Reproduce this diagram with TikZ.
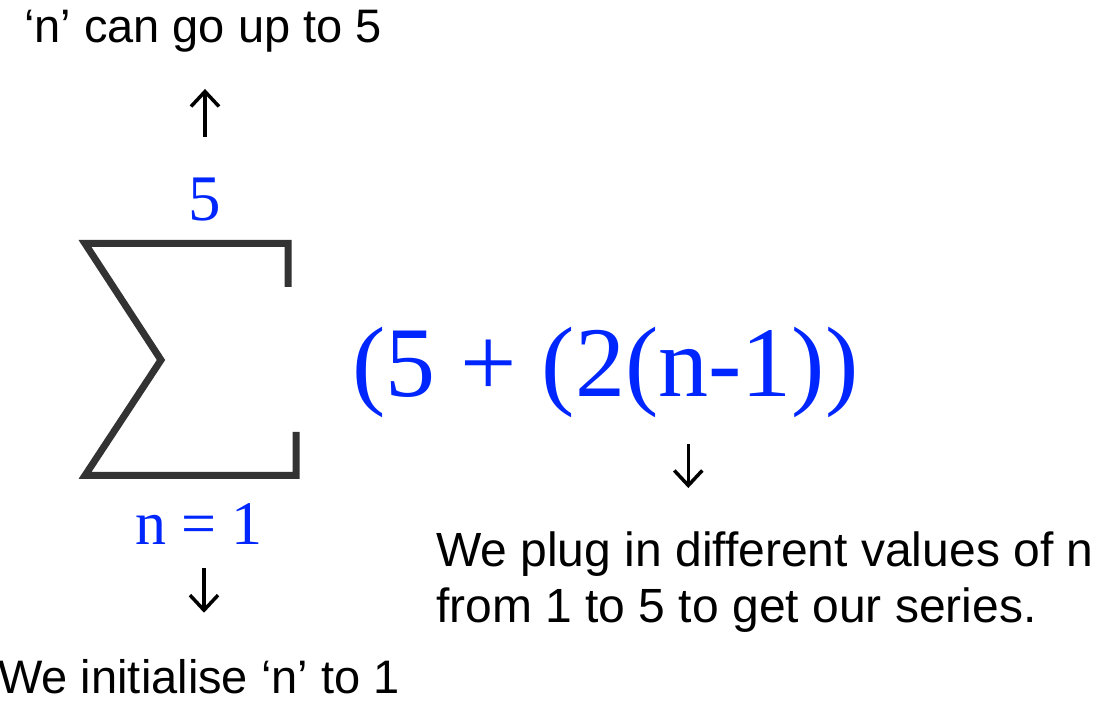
\documentclass[tikz,border=0pt]{standalone}
\usepackage{fontspec}
\setmainfont{Liberation Sans}
\newfontfamily\serieserif{Liberation Serif}
\usepackage{xcolor}
\usetikzlibrary{arrows.meta}
\definecolor{SeriesBlue}{HTML}{0026FF}
\definecolor{SeriesDark}{HTML}{333333}
\tikzset{
  notetext/.style={inner sep=0pt,font=\fontsize{47}{57}\selectfont,text=black},
  bluetext/.style={inner sep=0pt,text=SeriesBlue},
  pointarrow/.style={-{Straight Barb[length=15pt,width=28pt]},line width=3.5pt,draw=black},
  sigmaline/.style={line width=7pt,draw=SeriesDark}
}

\begin{document}
\begin{tikzpicture}[x=1pt,y=-1pt]
\useasboundingbox (0,0) rectangle (1096,708);
% upper limit
\node[notetext,anchor=base] (upto) at (203,43) {‘n’ can go up to 5};
\node[bluetext,font=\serieserif\fontsize{65}{65}\selectfont,anchor=base] (five) at (205,221) {5};
\draw[pointarrow,shorten <=41pt,shorten >=36pt] (five.north) -- (five.north |- upto.south);
% sigma sign
\draw[sigmaline] (288,287)--(288,243.5)--(85,243.5)--(161,360)--(85,475.5)--(296,475.5)--(296,432);
% term
\node[bluetext,font=\serieserif\fontsize{100}{100}\selectfont,anchor=base west] (expr) at (352,397) {(5 + (2(n-1))};
\node[notetext,font=\fontsize{48}{57}\selectfont,anchor=base west,align=left] (plug) at (436,623) {We plug in different values of n\\from 1 to 5 to get our series.};
\draw[pointarrow,shorten <=26pt,shorten >=43pt] ([xshift=83pt]expr.south) -- ([xshift=83pt]expr.south |- plug.north);
% lower limit
\node[bluetext,font=\serieserif\fontsize{62}{62}\selectfont,anchor=base] (nfirst) at (199,545) {n = 1};
\node[notetext,anchor=base] (init) at (199,693) {We initialise ‘n’ to 1};
\draw[pointarrow,shorten <=23pt,shorten >=46pt] ([xshift=5pt]nfirst.south) -- ([xshift=5pt]nfirst.south |- init.north);
\end{tikzpicture}
\end{document}
